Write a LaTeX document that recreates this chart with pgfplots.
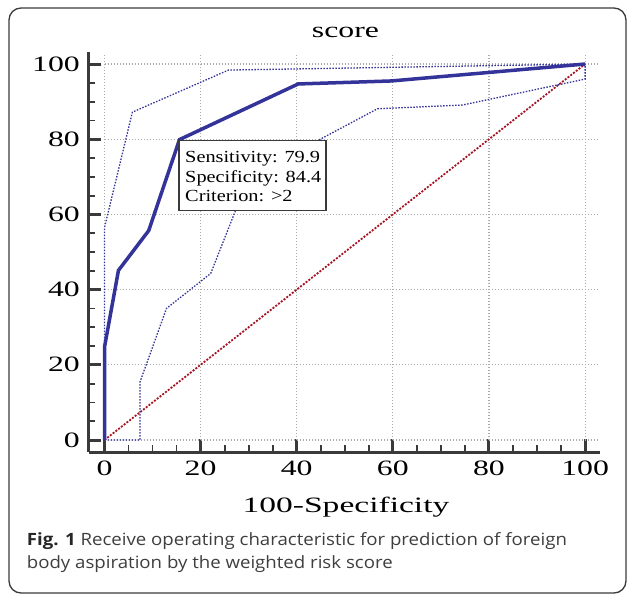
\documentclass[border=0pt]{standalone}
\usepackage{pgfplots}
\pgfplotsset{compat=1.18}
\usepackage{pgfplotstable}
\usepackage{fontspec}
\setmainfont{Liberation Serif}
\newfontfamily\bigserif[FakeStretch=1.45]{Liberation Serif}
\newfontfamily\xlabserif[FakeStretch=1.53]{Liberation Serif}
\newfontfamily\boxserif[FakeStretch=1.2]{Liberation Serif}
\newfontfamily\capfont[FakeStretch=1.1]{Open Sans}

\definecolor{rocblue}{RGB}{51,51,153}
\definecolor{diagred}{RGB}{165,20,35}
\definecolor{axisgray}{RGB}{58,58,58}
\definecolor{gridgray}{RGB}{170,170,170}
\definecolor{captext}{RGB}{62,62,62}

% ROC curve and 95% confidence bounds
\pgfplotstableread{
x y
0 0
0 24.7
2.9 45.1
9.2 55.7
15.6 79.9
40.3 94.7
59.7 95.5
100 100
}\roctab
\pgfplotstableread{
x y
0 0
0 56.5
5.8 87.2
25.8 98.4
40 98.7
100 100
}\upci
\pgfplotstableread{
x y
0 0
7.4 0
7.4 15.5
12.9 35.0
22.1 44.3
29.9 69.6
44.3 79.6
56.8 88.1
74.5 89.1
100 96
100 100
}\loci

\begin{document}
\begin{tikzpicture}
\useasboundingbox (0,0) rectangle (627bp,-595bp);
\draw[rounded corners=12bp, line width=1.3bp, color=axisgray] (9bp,-8bp) rectangle (626bp,-593bp);

\begin{axis}[
    at={(88.5bp,-452bp)}, anchor=south west,
    scale only axis, width=511.5bp, height=400bp,
    xmin=-3.33, xmax=103.1, ymin=-3.19, ymax=103.2,
    axis x line=bottom, axis y line=left,
    axis line style={-, line width=3bp, color=axisgray},
    xtick={0,20,...,100}, ytick={0,20,...,100},
    minor tick num=3,
    tick align=inside,
    major tick length=13bp, minor tick length=7bp,
    major tick style={line width=3bp, color=axisgray},
    minor tick style={line width=1.8bp, color=axisgray},
    /pgf/number format/assume math mode=true,
    xticklabel style={font=\bigserif\fontsize{22}{24}\selectfont, anchor=north, inner sep=0pt, yshift=-9bp},
    yticklabel style={font=\bigserif\fontsize{22}{24}\selectfont, anchor=east, inner sep=0pt, xshift=-8.5bp},
]
\pgfplotsinvokeforeach{0,20,40,60,80,100}{
  \draw[gridgray, line width=1.2bp, dash pattern=on 1.5bp off 1.5bp] (axis cs:0,#1) -- (axis cs:102.5,#1);
  \draw[gridgray, line width=1.2bp, dash pattern=on 1.5bp off 1.5bp] (axis cs:#1,0) -- (axis cs:#1,102.9);
}
\addplot[diagred, line width=1.8bp, dash pattern=on 2bp off 1.5bp] coordinates {(0,0) (100,100)};
\addplot[rocblue, line width=1.3bp, dash pattern=on 1.5bp off 1.5bp] table[x=x, y=y] {\upci};
\addplot[rocblue, line width=1.3bp, dash pattern=on 1.5bp off 1.5bp] table[x=x, y=y] {\loci};
\addplot[rocblue, line width=3.5bp, line join=miter] table[x=x, y=y] {\roctab};
\end{axis}

% criterion box
\draw[line width=1.4bp, color=axisgray, fill=white] (179bp,-140.7bp) rectangle (326bp,-210.7bp);
\begin{scope}[every node/.style={anchor=base west, inner sep=0pt, font=\boxserif\fontsize{17}{20}\selectfont}]
\node at (185bp,-162.7bp) {Sensitivity: 79.9};
\node at (185bp,-182.7bp) {Specificity: 84.4};
\node at (185bp,-201.7bp) {Criterion: >2};
\end{scope}

\node[anchor=base, inner sep=0pt, font=\bigserif\fontsize{22}{24}\selectfont] at (345.5bp,-37bp) {score};
\node[anchor=base, inner sep=0pt, font=\xlabserif\fontsize{22}{24}\selectfont] at (346bp,-512bp) {100-Specificity};

\begin{scope}[every node/.style={anchor=base west, inner sep=0pt, font=\capfont\fontsize{17}{21}\selectfont, text=captext}]
\node at (26.7bp,-545bp) {\textbf{\color{black!85}Fig. 1} Receive operating characteristic for prediction of foreign};
\node at (26.7bp,-568bp) {body aspiration by the weighted risk score};
\end{scope}
\end{tikzpicture}
\end{document}
